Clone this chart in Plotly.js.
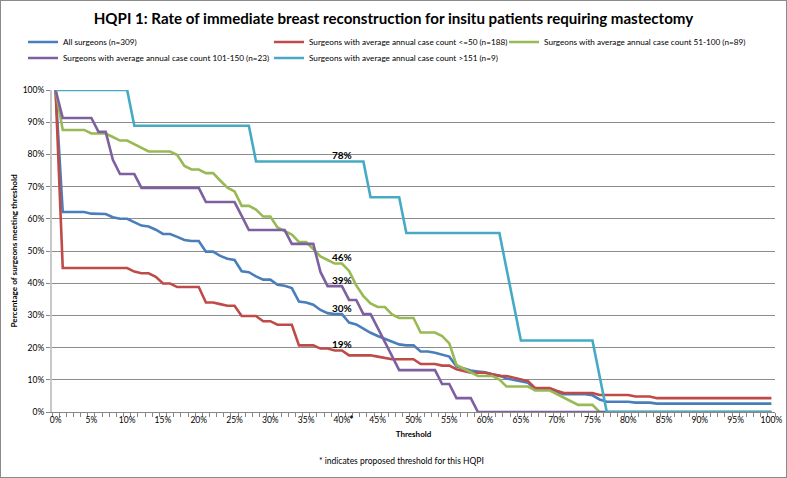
<!DOCTYPE html>
<html>
<head>
<meta charset="utf-8">
<script src="https://cdn.plot.ly/plotly-3.0.1.min.js"></script>
<style>
html,body{margin:0;padding:0;background:#fff;}
#wrap{width:787px;height:478px;box-sizing:border-box;border:1px solid #8a8a8a;}
#chart{width:785px;height:476px;}
</style>
</head>
<body>
<div id="wrap"><div id="chart"></div></div>
<script>
var thresholds = [0,1,2,3,4,5,6,7,8,9,10,11,12,13,14,15,16,17,18,19,20,21,22,23,24,25,26,27,28,29,30,31,32,33,34,35,36,37,38,39,40,41,42,43,44,45,46,47,48,49,50,51,52,53,54,55,56,57,58,59,60,61,62,63,64,65,66,67,68,69,70,71,72,73,74,75,76,77,78,79,80,81,82,83,84,85,86,87,88,89,90,91,92,93,94,95,96,97,98,99,100];

var allSurgeons = [100,62.1,62.1,62.1,62.1,61.6,61.6,61.5,60.5,60.0,60.0,58.9,57.9,57.6,56.6,55.3,55.3,54.4,53.4,53.1,53.1,49.8,49.8,48.5,47.6,47.2,43.7,43.4,42.1,41.1,41.1,39.5,39.2,38.5,34.3,34.0,33.3,31.7,30.7,30.4,30.4,27.8,27.2,25.9,24.6,23.6,22.7,21.7,21.0,20.7,20.7,18.8,18.8,18.4,17.8,17.2,14.2,13.6,12.9,12.6,12.3,11.7,11.3,10.4,10.0,9.4,9.1,7.1,7.1,7.1,6.1,5.5,5.5,5.5,5.5,5.2,3.9,3.2,3.2,3.2,3.2,2.9,2.9,2.9,2.6,2.6,2.6,2.6,2.6,2.6,2.6,2.6,2.6,2.6,2.6,2.6,2.6,2.6,2.6,2.6,2.6];

var upTo50 = [100,44.7,44.7,44.7,44.7,44.7,44.7,44.7,44.7,44.7,44.7,43.6,43.1,43.1,42.0,39.9,39.9,38.8,38.8,38.8,38.8,34.0,34.0,33.5,33.0,33.0,29.8,29.8,29.8,28.2,28.2,27.1,27.1,27.1,20.7,20.7,20.7,19.7,19.7,19.1,19.1,17.6,17.6,17.6,17.6,17.2,16.8,16.4,16.4,16.4,16.4,14.9,14.9,14.9,14.4,14.4,13.3,12.8,12.2,12.2,12.2,11.7,11.2,11.2,10.6,10.1,9.6,7.4,7.4,7.4,6.6,5.9,5.9,5.9,5.9,5.9,5.3,5.3,5.3,5.3,5.3,4.8,4.8,4.8,4.3,4.3,4.3,4.3,4.3,4.3,4.3,4.3,4.3,4.3,4.3,4.3,4.3,4.3,4.3,4.3,4.3];

var from51to100 = [100,87.6,87.6,87.6,87.6,86.5,86.5,86.5,85.4,84.3,84.3,83.1,82.0,80.9,80.9,80.9,80.9,79.8,76.4,75.3,75.3,74.2,74.2,71.9,69.7,68.5,64.0,64.0,62.9,60.7,60.7,57.3,56.2,55.1,52.8,52.8,50.6,48.3,47.2,46.1,46.1,43.8,39.3,36.0,33.7,32.6,32.6,30.3,29.2,29.2,29.2,24.7,24.7,24.7,23.6,21.3,14.6,13.5,12.4,11.2,11.2,11.2,10.1,7.9,7.9,7.9,7.9,6.7,6.7,6.7,5.6,4.5,3.4,2.2,2.2,2.2,0,0,0,0,0,0,0,0,0,0,0,0,0,0,0,0,0,0,0,0,0,0,0,0,0];

var from101to150 = [100,91.3,91.3,91.3,91.3,91.3,87.0,87.0,78.3,73.9,73.9,73.9,69.6,69.6,69.6,69.6,69.6,69.6,69.6,69.6,69.6,65.2,65.2,65.2,65.2,65.2,60.9,56.5,56.5,56.5,56.5,56.5,56.5,52.2,52.2,52.2,52.2,43.5,39.1,39.1,39.1,34.8,34.8,30.4,30.4,26.1,21.7,17.4,13.0,13.0,13.0,13.0,13.0,13.0,8.7,8.7,4.3,4.3,4.3,0,0,0,0,0,0,0,0,0,0,0,0,0,0,0,0,0,0,0,0,0,0,0,0,0,0,0,0,0,0,0,0,0,0,0,0,0,0,0,0,0,0];

var over151 = [100,100,100,100,100,100,100,100,100,100,100,88.9,88.9,88.9,88.9,88.9,88.9,88.9,88.9,88.9,88.9,88.9,88.9,88.9,88.9,88.9,88.9,88.9,77.8,77.8,77.8,77.8,77.8,77.8,77.8,77.8,77.8,77.8,77.8,77.8,77.8,77.8,77.8,77.8,66.7,66.7,66.7,66.7,66.7,55.6,55.6,55.6,55.6,55.6,55.6,55.6,55.6,55.6,55.6,55.6,55.6,55.6,55.6,44.4,33.3,22.2,22.2,22.2,22.2,22.2,22.2,22.2,22.2,22.2,22.2,22.2,11.1,0,0,0,0,0,0,0,0,0,0,0,0,0,0,0,0,0,0,0,0,0,0,0,0];

var seriesNames = ["All surgeons (n=309)",
  "Surgeons with average annual case count <=50 (n=188)",
  "Surgeons with average annual case count 51-100 (n=89)",
  "Surgeons with average annual case count 101-150 (n=23)",
  "Surgeons with average annual case count >151 (n=9)"];
var seriesColors = ["#4a7ebb","#be4b48","#98b954","#7d60a0","#46aac5"];
var labelThreshold = 40;
var tickLabels = ["0%","5%","10%","15%","20%","25%","30%","35%","40%","45%","50%","55%","60%","65%","70%","75%","80%","85%","90%","95%","100%"];
var tickPositions = [0,5,10,15,20,25,30,35,40,45,50,55,60,65,70,75,80,85,90,95,100];

var FONT = "Lato, 'Liberation Sans', Arial, sans-serif";
var allSeries = [allSurgeons, upTo50, from51to100, from101to150, over151];
var legendIds = ['legend','legend2','legend3','legend4','legend5'];
// legend slot placement (paper fractions): [x, y]
var legendSlots = [[-0.0401,1.149],[0.3001,1.149],[0.6252,1.149],[-0.0401,1.0994],[0.3001,1.0994]];

var traces = allSeries.map(function(vals, i){
  var idx = thresholds.indexOf(labelThreshold);
  var txt = vals.map(function(v, j){ return j === idx ? Math.round(v) + '%' : ''; });
  return {
    type: 'scatter',
    mode: 'lines+text',
    x: thresholds,
    y: vals,
    name: seriesNames[i],
    legend: legendIds[i],
    line: {color: seriesColors[i], width: 2.6},
    text: txt,
    textposition: 'top center',
    textfont: {family: FONT, size: 10, color: '#000', weight: 'bold'},
    cliponaxis: false,
    hoverinfo: 'skip'
  };
});

var layout = {
  width: 785, height: 476,
  margin: {l: 51, r: 11, t: 89, b: 65, pad: 0},
  paper_bgcolor: '#fff', plot_bgcolor: '#fff',
  font: {family: FONT, size: 9, color: '#000'},
  title: {
    text: '<b>HQPI 1: Rate of immediate breast reconstruction for insitu patients requiring mastectomy</b>',
    font: {family: FONT, size: 15.1, color: '#000'},
    x: 0.5, xref: 'container', xanchor: 'center',
    y: 0.963, yref: 'container', yanchor: 'middle'
  },
  showlegend: true,
  xaxis: {
    range: [-0.5, 100.5],
    tickmode: 'array', tickvals: tickPositions, ticktext: tickLabels,
    ticks: '', showgrid: false, zeroline: false,
    showline: true, linecolor: '#868686', linewidth: 1,
    tickfont: {family: FONT, size: 8.5, color: '#000'},
    minor: {tick0: 0.5, dtick: 1, ticks: 'outside', ticklen: 4, tickcolor: '#868686', tickwidth: 1, showgrid: false},
    title: {text: '<b>Threshold</b>', font: {family: FONT, size: 8, color: '#000'}, standoff: 7},
    fixedrange: true
  },
  yaxis: {
    range: [0, 100],
    tickmode: 'linear', tick0: 0, dtick: 10, ticksuffix: '%',
    ticks: 'outside', ticklen: 4, tickcolor: '#868686',
    showgrid: true, gridcolor: '#8c8c8c', gridwidth: 1,
    zeroline: false,
    showline: true, linecolor: '#c8c8c8', linewidth: 2,
    tickfont: {family: FONT, size: 8.5, color: '#000'},
    title: {text: '<b>Percentage of surgeons meeting threshold</b>', font: {family: FONT, size: 8.2, color: '#000'}, standoff: 4},
    fixedrange: true
  },
  annotations: [
    {text: '<b>*</b>', x: 41.4, xref: 'x', y: -0.022, yref: 'paper', xanchor: 'center', yanchor: 'middle', showarrow: false, font: {family: FONT, size: 11, color: '#000'}},
    {text: '* indicates proposed threshold for this HQPI', x: 0.484, xref: 'paper', y: -0.152, yref: 'paper', xanchor: 'center', yanchor: 'middle', showarrow: false, font: {family: FONT, size: 8.5, color: '#000'}}
  ]
};

legendIds.forEach(function(id, i){
  layout[id] = {
    orientation: 'h',
    x: legendSlots[i][0], xanchor: 'left', xref: 'paper',
    y: legendSlots[i][1], yanchor: 'middle', yref: 'paper',
    itemwidth: 30,
    font: {family: FONT, size: 8.2, color: '#000'},
    bgcolor: 'rgba(0,0,0,0)', borderwidth: 0
  };
});

Plotly.newPlot('chart', traces, layout, {staticPlot: true, displayModeBar: false});
</script>
</body>
</html>
